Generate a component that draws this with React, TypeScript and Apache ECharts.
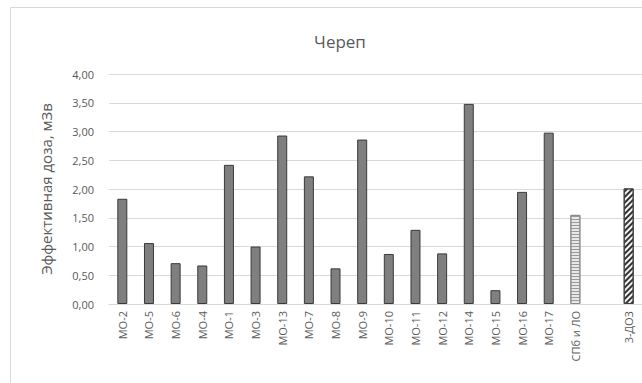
import React, { useEffect, useRef } from "react";
import * as echarts from "echarts";

const categories = [
  "МО-2", "МО-5", "МО-6", "МО-4", "МО-1", "МО-3", "МО-13", "МО-7", "МО-8", "МО-9",
  "МО-10", "МО-11", "МО-12", "МО-14", "МО-15", "МО-16", "МО-17", "СПб и ЛО", "", "3-ДОЗ",
];
const values: (number | null)[] = [
  1.83, 1.06, 0.71, 0.67, 2.42, 1.0, 2.93, 2.22, 0.62, 2.86,
  0.87, 1.29, 0.88, 3.48, 0.24, 1.95, 2.98, 1.55, null, 2.01,
];
const title = "Череп";
const yAxisName = "Эффективная доза, мЗв";

const FONT = "'Open Sans', 'Noto Sans', sans-serif";

export default function App() {
  const ref = useRef<HTMLDivElement>(null);
  useEffect(() => {
    if (!ref.current) return;
    const chart = echarts.init(ref.current, null, { renderer: "svg" });
    const data = values.map((v, i) => {
      const cat = categories[i];
      if (cat === "СПб и ЛО") {
        return {
          value: v,
          itemStyle: {
            color: "#e8e8e8",
            borderColor: "#8a8a8a",
            borderWidth: 1,
            decal: {
              symbol: "rect",
              symbolSize: 1,
              dashArrayX: [1, 0],
              dashArrayY: [1, 2],
              rotation: 0,
              color: "#9a9a9a",
            },
          },
        };
      }
      if (cat === "3-ДОЗ") {
        return {
          value: v,
          itemStyle: {
            color: "#f2f2f2",
            borderColor: "#404040",
            borderWidth: 1,
            decal: {
              symbol: "rect",
              symbolSize: 1,
              dashArrayX: [1, 0],
              dashArrayY: [2, 2],
              rotation: -Math.PI / 4,
              color: "#333333",
            },
          },
        };
      }
      return { value: v };
    });
    chart.setOption({
      animation: false,
      backgroundColor: "#ffffff",
      title: {
        text: title,
        left: 335,
        top: 28,
        textAlign: "center",
        textStyle: { fontFamily: FONT, fontSize: 17, fontWeight: "normal", color: "#595959" },
      },
      graphic: [
        {
          type: "rect",
          shape: { x: 10.5, y: 7.5, width: 700, height: 390 },
          style: { fill: "none", stroke: "#d9d9d9", lineWidth: 1 },
          silent: true,
        },
      ],
      grid: { left: 109, right: 0, top: 74, bottom: 79, containLabel: false },
      xAxis: {
        type: "category",
        data: categories,
        axisLine: { show: true, lineStyle: { color: "#d9d9d9" } },
        axisTick: { show: false },
        axisLabel: {
          rotate: 90,
          interval: 0,
          margin: 7,
          fontFamily: FONT,
          fontSize: 11,
          color: "#595959",
        },
      },
      yAxis: {
        type: "value",
        min: 0,
        max: 4,
        interval: 0.5,
        name: yAxisName,
        nameLocation: "middle",
        nameGap: 56,
        nameTextStyle: { fontFamily: FONT, fontSize: 15, color: "#595959" },
        axisLine: { show: false },
        axisTick: { show: false },
        splitLine: { lineStyle: { color: "#d9d9d9", width: 1 } },
        axisLabel: {
          margin: 15,
          fontFamily: FONT,
          fontSize: 11,
          color: "#595959",
          formatter: (v: number) => v.toFixed(2).replace(".", ","),
        },
      },
      series: [
        {
          type: "bar",
          data,
          barWidth: 10,
          itemStyle: { color: "#7f7f7f", borderColor: "#3a3a3a", borderWidth: 1 },
        },
      ],
    });
    return () => chart.dispose();
  }, []);
  return (
    <div
      ref={ref}
      style={{ position: "absolute", left: 0, top: 0, width: 642, height: 383 }}
    />
  );
}
